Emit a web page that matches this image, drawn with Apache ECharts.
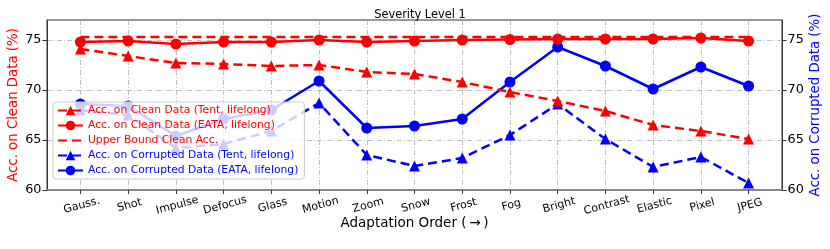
<!DOCTYPE html>
<html>
<head>
<meta charset="utf-8">
<script src="https://cdn.jsdelivr.net/npm/echarts@6/dist/echarts.min.js"></script>
<style>html,body{margin:0;padding:0;background:#fff;}#c{width:830px;height:249px;}</style>
</head>
<body>
<div id="c"></div>
<script>
const categories = ['Gauss.','Shot','Impulse','Defocus','Glass','Motion','Zoom','Snow','Frost','Fog','Bright','Contrast','Elastic','Pixel','JPEG'];
const cleanTent = [74.1,73.4,72.7,72.6,72.4,72.5,71.8,71.6,70.8,69.8,68.9,67.9,66.5,65.9,65.1];
const cleanEata = [74.8,74.9,74.6,74.8,74.8,75.0,74.8,74.9,75.0,75.05,75.1,75.1,75.1,75.2,74.9];
const upperBound = [75.3,75.3,75.3,75.3,75.3,75.3,75.3,75.3,75.3,75.3,75.3,75.3,75.3,75.3,75.3];
const corrTent = [68.0,67.5,64.2,64.6,65.9,68.7,63.5,62.4,63.2,65.5,68.6,65.1,62.3,63.3,60.7];
const corrEata = [68.6,68.4,65.4,67.1,68.0,70.9,66.2,66.4,67.1,70.8,74.3,72.4,70.1,72.3,70.4];
const yTicks = [60,65,70,75];

const idx = categories.map((c,i)=>i);
const pairs = arr => arr.map((v,i)=>[i,v]);
const FONT = 'DejaVu Sans';
const RED = '#ff0000', BLUE = '#0000ff';
const gridLine = {show:true, lineStyle:{color:'#b0b0b0', width:0.8, type:[5,2,1,2]}};

function yAxis(pos, name, color){
  return {
    type:'value', position:pos, min:60, max:77,
    name:name, nameLocation:'middle', nameGap:27, nameRotate:90, nameMoveOverlap:false,
    nameTextStyle:{color:color, fontSize:13.3, fontFamily:FONT},
    axisLine:{show:true, onZero:false, lineStyle:{color:'#333', width:1}},
    axisTick:{show:true, inside:false, length:4.5, customValues:yTicks, lineStyle:{color:'#333'}},
    axisLabel:{customValues:yTicks, color:'#000', fontSize:12.8, fontFamily:FONT, margin:5.5},
    splitLine: pos==='left' ? gridLine : {show:false}
  };
}

const chart = echarts.init(document.getElementById('c'), null, {renderer:'canvas'});
chart.setOption({
  animation:false,
  backgroundColor:'#fff',
  title:{text:'Severity Level 1', left:415, textAlign:'center', top:5,
    textStyle:{fontSize:11.4, fontWeight:'normal', color:'#000', fontFamily:FONT}},
  grid:{left:47, right:48, top:20, bottom:59, outerBoundsMode:'none', containLabel:false,
    show:true, borderColor:'#333', borderWidth:1, backgroundColor:'transparent'},
  legend:{
    orient:'vertical', left:53, top:102, itemWidth:25, itemHeight:12, itemGap:4, z:10,
    padding:[3,6,3,4], backgroundColor:'rgba(255,255,255,0.8)', borderColor:'#cccccc', borderWidth:1, borderRadius:3,
    textStyle:{fontSize:10.75, fontFamily:FONT},
    data:[
      {name:'Acc. on Clean Data (Tent, lifelong)', textStyle:{color:RED}},
      {name:'Acc. on Clean Data (EATA, lifelong)', textStyle:{color:RED}},
      {name:'Upper Bound Clean Acc.', textStyle:{color:RED}, itemStyle:{color:'rgba(0,0,0,0)', borderWidth:0, opacity:0}},
      {name:'Acc. on Corrupted Data (Tent, lifelong)', textStyle:{color:BLUE}},
      {name:'Acc. on Corrupted Data (EATA, lifelong)', textStyle:{color:BLUE}}
    ]
  },
  xAxis:{
    type:'value', min:-0.7, max:14.7,
    name:'Adaptation Order (\u2009\u2192\u2009)', nameLocation:'middle', nameGap:26, nameMoveOverlap:false,
    nameTextStyle:{color:'#000', fontSize:13.5, fontFamily:FONT, verticalAlign:'top'},
    axisLine:{show:true, onZero:false, lineStyle:{color:'#888', width:2}},
    axisTick:{show:true, length:4, customValues:idx, lineStyle:{color:'#333'}},
    axisLabel:{customValues:idx, rotate:15, align:'center', verticalAlign:'top', margin:10,
      formatter:v=>categories[Math.round(v)], color:'#000', fontSize:11, fontFamily:FONT},
    splitLine:gridLine
  },
  yAxis:[yAxis('left','Acc. on Clean Data (%)',RED), yAxis('right','Acc. on Corrupted Data (%)',BLUE)],
  series:[
    {name:'Acc. on Clean Data (Tent, lifelong)', type:'line', yAxisIndex:0, data:pairs(cleanTent),
      symbol:'triangle', symbolSize:11, color:RED, lineStyle:{width:2.5, type:[9,5], color:RED}, itemStyle:{color:RED}, z:3},
    {name:'Acc. on Clean Data (EATA, lifelong)', type:'line', yAxisIndex:0, data:pairs(cleanEata),
      symbol:'circle', symbolSize:11, color:RED, lineStyle:{width:2.5, type:'solid', color:RED}, itemStyle:{color:RED}, z:3},
    {name:'Upper Bound Clean Acc.', type:'line', yAxisIndex:0, data:pairs(upperBound),
      symbol:'none', color:RED, lineStyle:{width:2.5, type:[9,5], color:RED}, itemStyle:{color:RED}, z:3},
    {name:'Acc. on Corrupted Data (Tent, lifelong)', type:'line', yAxisIndex:1, data:pairs(corrTent),
      symbol:'triangle', symbolSize:11, color:BLUE, lineStyle:{width:2.5, type:[9,5], color:BLUE}, itemStyle:{color:BLUE}, z:2},
    {name:'Acc. on Corrupted Data (EATA, lifelong)', type:'line', yAxisIndex:1, data:pairs(corrEata),
      symbol:'circle', symbolSize:11, color:BLUE, lineStyle:{width:2.5, type:'solid', color:BLUE}, itemStyle:{color:BLUE}, z:2}
  ]
});
</script>
</body>
</html>
